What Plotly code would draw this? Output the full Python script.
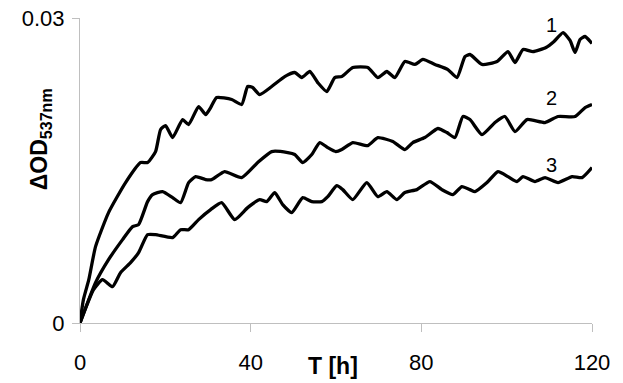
import plotly.graph_objects as go

# Curve 1
t1 = [0, 0.8, 2.06, 3.64, 6.69, 10.68, 14.20, 15.84, 17.71, 18.89, 20.06, 21.70, 24.05, 25.46, 27.80,
      29.45, 30.62, 32.03, 35.55, 37.89, 39.30, 40.47, 42.11, 44.93, 47.98, 50.33, 51.97, 53.85,
      55.72, 57.84, 59.71, 61.36, 63.94, 67.46, 69.80, 71.92, 73.79, 76.14, 78.49, 80.37, 83.18,
      86.23, 88.35, 90.22, 91.40, 94.21, 97.73, 100.31, 101.95, 103.83, 106.17, 109.22, 111.1,
      113.21, 114.85, 116.03, 117.2, 118.38, 120.0]
od1 = [0, 0.0023, 0.00426, 0.00751, 0.01086, 0.01381, 0.01578, 0.01578, 0.01686, 0.01903, 0.01942,
       0.01824, 0.02001, 0.01952, 0.02129, 0.02050, 0.02119, 0.02218, 0.02198, 0.02149, 0.02326,
       0.02316, 0.02247, 0.02326, 0.02424, 0.02464, 0.02414, 0.02474, 0.02365, 0.02277, 0.02414,
       0.02424, 0.02513, 0.02513, 0.02414, 0.02474, 0.02414, 0.02572, 0.02543, 0.02592, 0.02543,
       0.02493, 0.02414, 0.02621, 0.02641, 0.02543, 0.02572, 0.02670, 0.02562, 0.02690, 0.02670,
       0.02710, 0.02769, 0.02857, 0.02779, 0.02661, 0.02789, 0.02818, 0.02749]

# Curve 2
t2 = [0, 3.64, 6.69, 9.97, 12.32, 13.73, 15.84, 17.01, 19.36, 21.70, 23.58, 25.46, 27.10, 29.45,
      30.85, 33.90, 37.89, 41.65, 44.93, 48.69, 50.33, 52.21, 54.32, 56.19, 58.07, 59.95, 61.36,
      63.94, 67.46, 69.80, 73.32, 76.14, 78.01, 80.83, 83.88, 85.99, 87.87, 89.75, 91.40, 94.21,
      97.26, 99.6, 101.95, 104.77, 108.99, 112.04, 116.03, 118.38, 120.0]
od2 = [0, 0.00397, 0.00623, 0.00820, 0.00948, 0.00968, 0.01194, 0.01263, 0.01292, 0.01233, 0.01184,
       0.01381, 0.01440, 0.01411, 0.01411, 0.01489, 0.01430, 0.01578, 0.01686, 0.01676, 0.01657,
       0.01578, 0.01657, 0.01775, 0.01725, 0.01686, 0.01706, 0.01775, 0.01745, 0.01824, 0.01785,
       0.01706, 0.01775, 0.01824, 0.01913, 0.01873, 0.01824, 0.02031, 0.02001, 0.01853, 0.01972,
       0.02031, 0.01883, 0.02001, 0.01972, 0.02031, 0.02031, 0.02119, 0.02149]

# Curve 3
t3 = [0, 3.17, 5.28, 7.63, 9.50, 11.85, 13.73, 15.84, 17.71, 21.70, 23.58, 25.46, 27.80, 30.62,
      33.20, 36.25, 39.30, 42.12, 43.76, 45.64, 47.51, 49.62, 52.21, 54.32, 56.66, 58.07, 60.18,
      61.59, 63.94, 67.22, 69.80, 71.92, 74.26, 76.14, 78.95, 82.0, 84.82, 87.40, 89.51, 91.40,
      92.57, 95.39, 97.97, 100.31, 102.42, 103.83, 106.64, 108.99, 112.04, 115.33, 117.67, 120.0]
od3 = [0, 0.00328, 0.00426, 0.00357, 0.00495, 0.00594, 0.00692, 0.00869, 0.00869, 0.00840, 0.00918,
       0.00918, 0.01017, 0.01115, 0.01184, 0.01017, 0.01135, 0.01214, 0.01194, 0.01283, 0.01164,
       0.01086, 0.01233, 0.01194, 0.01194, 0.01243, 0.01351, 0.01312, 0.01214, 0.01381, 0.01243,
       0.01292, 0.01214, 0.01283, 0.01312, 0.01391, 0.01312, 0.01263, 0.01342, 0.01312, 0.01292,
       0.01381, 0.01489, 0.01440, 0.01391, 0.01440, 0.01391, 0.01430, 0.01381, 0.01440, 0.01430,
       0.01529]

curve_labels = ["1", "2", "3"]
label_x = [110.4, 110.6, 110.6]
label_y = [0.02936, 0.02218, 0.01558]

x_ticks = [0, 40, 80, 120]
y_ticks = [0, 0.03]
y_tick_text = ["0", "0.03"]

FONT = "Arial, Liberation Sans, sans-serif"

fig = go.Figure()
for t, od in [(t1, od1), (t2, od2), (t3, od3)]:
    fig.add_trace(go.Scatter(x=t, y=od, mode="lines",
                             line=dict(color="black", width=3.3, shape="spline", smoothing=0.5),
                             showlegend=False, hoverinfo="skip"))

for lab, lx, ly in zip(curve_labels, label_x, label_y):
    fig.add_annotation(x=lx, y=ly, text=lab, showarrow=False,
                       font=dict(family=FONT, size=20, color="black"),
                       xanchor="center", yanchor="middle")

# y-axis title
fig.add_annotation(xref="paper", yref="paper", x=-0.077, y=0.601,
                   text="<b>ΔOD<sub>537nm</sub></b>", textangle=-90, showarrow=False,
                   font=dict(family=FONT, size=23, color="black"),
                   xanchor="center", yanchor="middle")
# x-axis title
fig.add_annotation(xref="paper", yref="paper", x=0.495, y=-0.140,
                   text="<b>T [h]</b>", showarrow=False,
                   font=dict(family=FONT, size=23, color="black"),
                   xanchor="center", yanchor="middle")

fig.update_layout(
    width=615, height=375,
    margin=dict(l=72, r=31, t=10, b=60),
    paper_bgcolor="white", plot_bgcolor="white",
    font=dict(family=FONT, color="black"),
    xaxis=dict(range=[0, 120], tickvals=x_ticks, ticktext=[str(v) for v in x_ticks],
               automargin=False, ticklabeloverflow="allow",
               showgrid=False, zeroline=False, showline=True, linecolor="#bfbfbf", linewidth=1,
               ticks="outside", ticklen=8, tickcolor="#bfbfbf", tickwidth=1,
               tickfont=dict(family=FONT, size=22, color="black"), ticklabelstandoff=12),
    yaxis=dict(range=[0, 0.03], tickvals=y_ticks, ticktext=y_tick_text,
               automargin=False, ticklabeloverflow="allow",
               showgrid=False, zeroline=False, showline=True, linecolor="#bfbfbf", linewidth=1,
               ticks="outside", ticklen=7, tickcolor="#bfbfbf", tickwidth=1,
               tickfont=dict(family=FONT, size=22, color="black"), ticklabelstandoff=3),
)

fig.write_html("out.html")
